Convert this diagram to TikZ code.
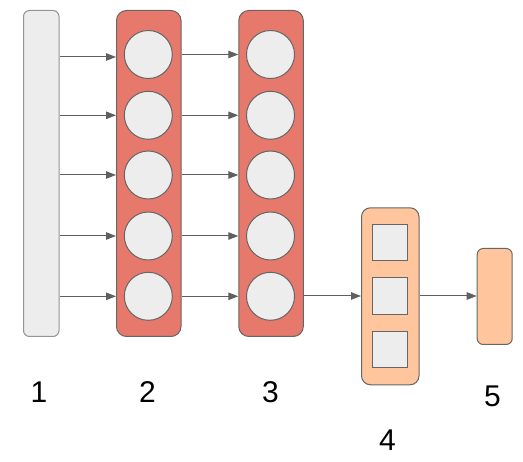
\documentclass[tikz,border=0pt]{standalone}
\usepackage{fontspec}
\setmainfont{Liberation Sans}
\usetikzlibrary{arrows.meta}
\definecolor{lightg}{HTML}{EDEDED}
\definecolor{redf}{HTML}{E6796B}
\definecolor{peach}{HTML}{FFC59C}
\definecolor{strk}{HTML}{666666}
\definecolor{arr}{HTML}{5F5F5F}
\tikzset{
  box/.style={draw=strk, line width=1pt, rounded corners=7pt, inner sep=0pt, anchor=north west},
  neuron/.style={circle, draw=strk, line width=1pt, fill=lightg, minimum size=48pt, inner sep=0pt},
  sq/.style={draw=strk, line width=1pt, fill=lightg, minimum width=35.5pt, minimum height=36.5pt, inner sep=0pt},
  conn/.style={draw=arr, line width=1pt, -{Triangle[length=10pt,width=7.5pt]}},
  lab/.style={font=\fontsize{30}{32}\selectfont, text=black, inner sep=0pt}
}
\begin{document}
\begin{tikzpicture}[x=1pt,y=-1pt]
\useasboundingbox (0,0) rectangle (523,462);
% box 1
\node[box, draw=strk!70, fill=lightg, minimum width=35.5pt, minimum height=326pt, rounded corners=6pt] (b1) at (23,10) {};
% box 2 and 3
\node[box, fill=redf, minimum width=64.5pt, minimum height=326pt, rounded corners=10pt] (b2) at (116,10) {};
\node[box, fill=redf, minimum width=64.5pt, minimum height=326pt, rounded corners=10pt] (b3) at (238.3,10) {};
\foreach \i/\y in {1/54.5,2/115.3,3/175,4/236,5/296.3}{
  \node[neuron] (n2\i) at (148.3,\y) {};
  \node[neuron] (n3\i) at (270.5,\y) {};
}
% box 4
\node[box, fill=peach, minimum width=57.5pt, minimum height=177pt, rounded corners=9pt] (b4) at (361,207.3) {};
\node[sq] (s1) at (389.8,242.5) {};
\node[sq] (s2) at (389.8,296) {};
\node[sq] (s3) at (389.8,349.3) {};
% box 5
\node[box, fill=peach, minimum width=35pt, minimum height=96pt, rounded corners=6pt] (b5) at (476.7,248) {};
% arrows
\draw[conn] (b1.east |- 0,57) -- (b2.west |- 0,57);
\foreach \i in {2,...,5}{
  \draw[conn] (b1.east |- n2\i) -- (b2.west |- n2\i);
}
\foreach \i in {1,...,5}{
  \draw[conn] (b2.east |- n2\i) -- (b3.west |- n3\i);
}
\draw[conn] (b3.east |- s2) -- (b4.west |- s2);
\draw[conn] (b4.east |- s2) -- (b5.west |- s2);
% labels
\node[lab] (l1) at (39,392) {1};
\node[lab] (l2) at (147.5,392) {2};
\node[lab] (l3) at (270.5,392) {3};
\node[lab] (l4) at (387.5,440) {4};
\node[lab] (l5) at (492.5,396.5) {5};
\end{tikzpicture}
\end{document}
